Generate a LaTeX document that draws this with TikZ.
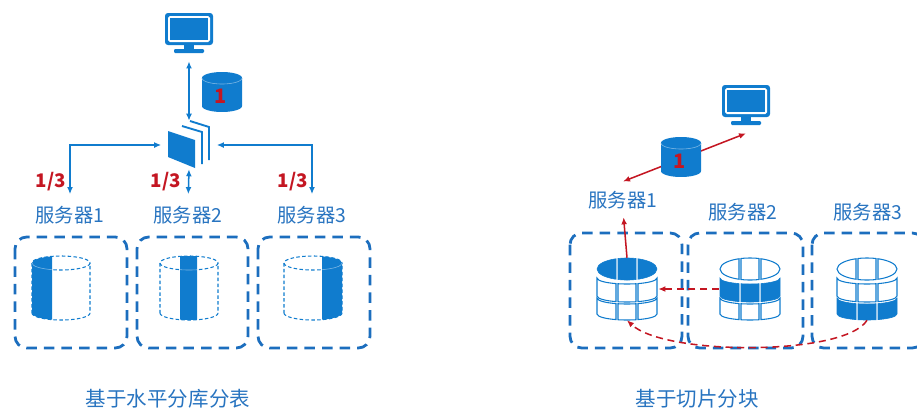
\documentclass[tikz,border=0pt]{standalone}
\usepackage{fontspec}
\setmainfont{Noto Sans CJK SC}
\usetikzlibrary{arrows.meta}

\definecolor{iconblue}{RGB}{16,124,206}
\definecolor{boxblue}{RGB}{28,110,190}
\definecolor{txtblue}{RGB}{40,116,192}
\definecolor{numred}{RGB}{196,22,34}

\tikzset{
  dbox/.style={draw=boxblue,line width=2.4pt,dash pattern=on 9pt off 6pt,rounded corners=10pt},
  barrow/.style={draw=iconblue,line width=1.3pt},
  rarrow/.style={draw=numred,line width=1.3pt},
  rdash/.style={rarrow,dash pattern=on 6pt off 4pt},
  srvlabel/.style={text=txtblue,inner sep=1pt,font=\fontsize{16.5pt}{18pt}\selectfont},
  title/.style={text=txtblue,inner sep=1pt,font=\fontsize{17.5pt}{19pt}\selectfont},
  fraclabel/.style={text=numred,inner sep=1pt,font=\bfseries\fontsize{16pt}{18pt}\selectfont},
  dbnum/.style={text=numred,inner sep=0pt,font=\bfseries\fontsize{17pt}{17pt}\selectfont},
  iconbox/.style={inner sep=0pt,minimum width=#1},
  slicefill/.style={fill=iconblue,draw=iconblue,line width=0.5pt},
  sliceline/.style={fill=white,draw=iconblue,line width=0.9pt}
}

% screen with stand, centred on #1
\newcommand{\monitoricon}[1]{%
  \begin{scope}[shift={(#1)}]
    \fill[iconblue,rounded corners=2.5pt] (-24,-20) rectangle (24,12);
    \fill[white,rounded corners=1.5pt] (-21,-17) rectangle (21,9);
    \fill[iconblue] (-19,-15) rectangle (19,7);
    \fill[iconblue] (-5,12) rectangle (5,17);
    \fill[iconblue,rounded corners=1pt] (-15,16) rectangle (15,20);
  \end{scope}}

% solid database drum
\newcommand{\dbicon}[1]{%
  \begin{scope}[shift={(#1)}]
    \fill[iconblue] plot[domain=180:360,samples=30] ({20*cos(\x)},{-14+6*sin(\x)})
      -- plot[domain=0:180,samples=30] ({20*cos(\x)},{14+6*sin(\x)}) -- cycle;
    \draw[white!45!iconblue,line width=0.5pt]
      plot[domain=0:180,samples=30] ({20*cos(\x)},{-14+6*sin(\x)});
  \end{scope}}

% stacked pages (router)
\newcommand{\routericon}[1]{%
  \begin{scope}[shift={(#1)}]
    \fill[iconblue] (-21,-14) -- (6,-5) -- (6,23) -- (-21,12) -- cycle;
    \draw[iconblue,line width=1.6pt] (-7,-19) -- (13,-13) -- (13,19);
    \draw[iconblue,line width=1.6pt] (1,-24) -- (20,-18) -- (20,15);
  \end{scope}}

% dashed drum with one solid vertical strip from #2 to #3
\newcommand{\stripcyl}[3]{%
  \begin{scope}[shift={(#1)}]
    \draw[iconblue,line width=0.9pt,dash pattern=on 3pt off 2pt]
      plot[domain=0:360,samples=60] ({29*cos(\x)},{-25+7*sin(\x)});
    \draw[iconblue,line width=0.9pt,dash pattern=on 3pt off 2pt]
      (-29,-25) -- (-29,25) plot[domain=180:0,samples=30] ({29*cos(\x)},{25+7*sin(\x)}) -- (29,-25);
    \fill[iconblue] plot[domain=#2:#3,samples=15] (\x,{-25-7*sqrt(max(0,1-(\x/29)*(\x/29)))})
      -- plot[domain=#3:#2,samples=15] (\x,{25+7*sqrt(max(0,1-(\x/29)*(\x/29)))}) -- cycle;
    \draw[white!45!iconblue,line width=0.5pt]
      plot[domain=#2:#3,samples=15] (\x,{-25+7*sqrt(max(0,1-(\x/29)*(\x/29)))});
  \end{scope}}

% drum cut in 3x3 tiles, row #2 solid (0 top face, 1 middle, 2 bottom)
\newcommand{\slicedcyl}[2]{%
  \begin{scope}[shift={(#1)}]
    \foreach \a/\b in {-30/-11,-9/9,11/30}{
      \ifnum#2=0 \tikzset{slicerow/.style={slicefill}}\else\tikzset{slicerow/.style={sliceline}}\fi
      \path[slicerow] plot[domain=\a:\b,samples=12] (\x,{-20-11*sqrt(max(0,1-(\x/30)*(\x/30)))})
        -- plot[domain=\b:\a,samples=12] (\x,{-20+11*sqrt(max(0,1-(\x/30)*(\x/30)))}) -- cycle;
      \foreach \r/\t/\u in {1/-11/7,2/9/25}{
        \ifnum#2=\r \tikzset{slicerow/.style={slicefill}}\else\tikzset{slicerow/.style={sliceline}}\fi
        \path[slicerow] plot[domain=\a:\b,samples=12] (\x,{\t+6*sqrt(max(0,1-(\x/30)*(\x/30)))})
          -- plot[domain=\b:\a,samples=12] (\x,{\u+6*sqrt(max(0,1-(\x/30)*(\x/30)))}) -- cycle;
      }
    }
  \end{scope}}

\begin{document}
\begin{tikzpicture}[x=0.03cm,y=-0.03cm,>={Latex[length=6pt,width=5pt]}]
  \useasboundingbox (0,0) rectangle (917,410);

  % ---- horizontal split (left) ----
  \node[iconbox=41pt,minimum height=34pt] (lmon) at (189,33) {};
  \node[iconbox=47pt,minimum height=41pt] (router) at (189,145) {};
  \node[iconbox=34pt,minimum height=35pt] (ldb) at (222,92) {};
  \monitoricon{lmon}
  \routericon{router}
  \dbicon{ldb}
  \node[dbnum] (ldbn) at (221,96) {1};

  \node[srvlabel] (srv1) at (70,215) {服务器1};
  \node[srvlabel] (srv2) at (188,215) {服务器2};
  \node[srvlabel] (srv3) at (312,215) {服务器3};
  \node[fraclabel] (f1) at (51,182) {1/3};
  \node[fraclabel] (f2) at (166,182) {1/3};
  \node[fraclabel] (f3) at (293,182) {1/3};

  \draw[barrow,<->,shorten <=7pt] (lmon.south) -- (router.north);
  \draw[barrow,<->,shorten >=9pt] (router.west) -| (srv1.north);
  \draw[barrow,<->,shorten >=9pt] (router.east) -| (srv3.north);
  \draw[barrow,<->,shorten >=9pt] (router.south) -- (srv2.north);

  \foreach \xa/\xb in {15/127,137/248,258/370}{ \draw[dbox] (\xa,237) rectangle (\xb,348); }
  \stripcyl{61,288}{-29}{-9}
  \stripcyl{189,288}{-9}{8}
  \stripcyl{313,288}{9}{29}

  \node[title] (ltitle) at (168,399) {基于水平分库分表};

  % ---- sharding (right) ----
  \node[iconbox=41pt,minimum height=34pt] (rmon) at (746,105) {};
  \node[iconbox=34pt,minimum height=35pt] (rdb) at (681,157) {};
  \node[srvlabel] (rsrv1) at (623,200) {服务器1};
  \node[srvlabel] (rsrv2) at (743,212) {服务器2};
  \node[srvlabel] (rsrv3) at (868,212) {服务器3};

  \draw[rarrow,<->] ([yshift=7pt]rsrv1.north) -- ([yshift=-7pt]rmon.south);
  \monitoricon{rmon}
  \dbicon{rdb}
  \node[dbnum] (rdbn) at (680,161) {1};

  \foreach \xa/\xb in {570/682,688/803,812/924}{ \draw[dbox] (\xa,233) rectangle (\xb,348); }
  \node[iconbox=53pt,minimum height=53pt] (rc1) at (627,289) {};
  \node[iconbox=53pt,minimum height=53pt] (rc2) at (750,289) {};
  \node[iconbox=53pt,minimum height=53pt] (rc3) at (867,289) {};
  \slicedcyl{rc1}{0}
  \slicedcyl{rc2}{1}
  \slicedcyl{rc3}{2}

  \draw[rarrow,->,shorten >=6pt] (rc1.north) -- (rsrv1.south);
  \draw[rdash,->] (rc2.west) -- (rc1.east);
  \draw[rdash,->] (rc3.south) .. controls (845,356) and (665,356) .. (rc1.south);

  \node[title] (rtitle) at (697,399) {基于切片分块};
\end{tikzpicture}
\end{document}
